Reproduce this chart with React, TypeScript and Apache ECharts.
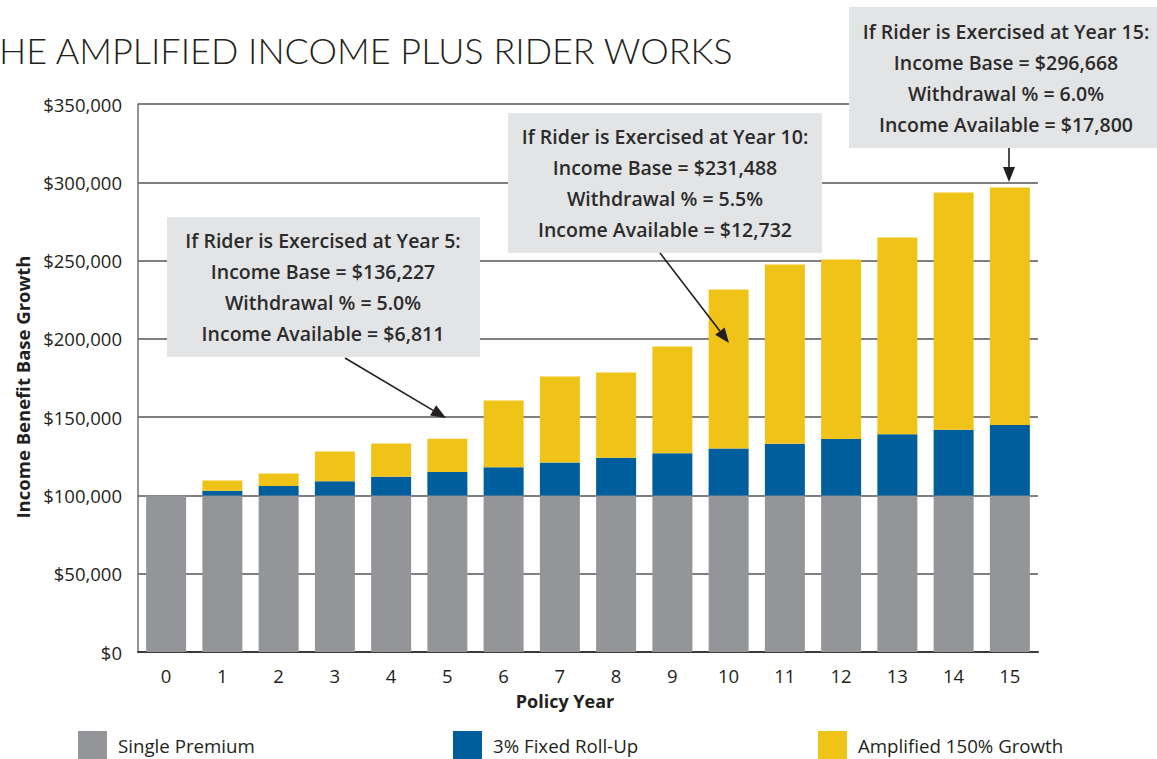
import React, { useEffect, useRef } from "react";
import * as echarts from "echarts";

const years = ["0", "1", "2", "3", "4", "5", "6", "7", "8", "9", "10", "11", "12", "13", "14", "15"];
const singlePremium = [100000, 100000, 100000, 100000, 100000, 100000, 100000, 100000, 100000, 100000, 100000, 100000, 100000, 100000, 100000, 100000];
const fixedRollUp = [0, 3000, 6000, 9000, 12000, 15000, 18000, 21000, 24000, 27000, 30000, 33000, 36000, 39000, 42000, 45000];
const amplifiedGrowth = [0, 6500, 8000, 19000, 21200, 21227, 42700, 55000, 54500, 68100, 101488, 114500, 114700, 125800, 151500, 151668];
const seriesNames = ["Single Premium", "3% Fixed Roll-Up", "Amplified 150% Growth"];
const colors = ["#939598", "#005e9c", "#f0c319"];
const titleText = "HE AMPLIFIED INCOME PLUS RIDER WORKS";
const xAxisName = "Policy Year";
const yAxisName = "Income Benefit Base Growth";
const callout5 = ["If Rider is Exercised at Year 5:", "Income Base = $136,227", "Withdrawal % = 5.0%", "Income Available = $6,811"];
const callout10 = ["If Rider is Exercised at Year 10:", "Income Base = $231,488", "Withdrawal % = 5.5%", "Income Available = $12,732"];
const callout15 = ["If Rider is Exercised at Year 15:", "Income Base = $296,668", "Withdrawal % = 6.0%", "Income Available = $17,800"];

const FONT = "'Open Sans', 'Noto Sans', sans-serif";

function box(x: number, y: number, w: number, h: number, cx: number, lines: string[]) {
  return [
    { type: "rect", shape: { x, y, width: w, height: h }, style: { fill: "#e3e4e6" }, z: 10 },
    {
      type: "text",
      x: cx,
      y: y + h / 2,
      z: 11,
      style: {
        text: lines.join("\n"),
        fontFamily: FONT,
        fontSize: 19.5,
        fontWeight: 600,
        lineHeight: 31,
        fill: "#2b2b2b",
        align: "center",
        verticalAlign: "middle",
      },
    },
  ];
}

function arrow(x1: number, y1: number, x2: number, y2: number) {
  const dx = x2 - x1;
  const dy = y2 - y1;
  const len = Math.sqrt(dx * dx + dy * dy);
  const ux = dx / len;
  const uy = dy / len;
  const hl = 15;
  const hw = 6;
  const bx = x2 - ux * hl;
  const by = y2 - uy * hl;
  return [
    { type: "line", shape: { x1, y1, x2: bx, y2: by }, style: { stroke: "#231f20", lineWidth: 1.6 }, z: 12 },
    {
      type: "polygon",
      shape: { points: [[x2, y2], [bx - uy * hw, by + ux * hw], [bx + uy * hw, by - ux * hw]] },
      style: { fill: "#231f20" },
      z: 12,
    },
  ];
}

export default function App() {
  const ref = useRef<HTMLDivElement>(null);
  useEffect(() => {
    if (!ref.current) return;
    const chart = echarts.init(ref.current, null, { renderer: "svg" });
    const data = [singlePremium, fixedRollUp, amplifiedGrowth];
    const legendX = [78, 453, 818];
    chart.setOption({
      animation: false,
      backgroundColor: "#ffffff",
      grid: { left: 138, right: 119, top: 104, bottom: 107, containLabel: false },
      legend: seriesNames.map((n, i) => ({
        data: [n],
        left: legendX[i],
        top: 731,
        itemWidth: 29,
        itemHeight: 28,
        icon: "rect",
        padding: 0,
        textStyle: { fontFamily: FONT, fontSize: 18.7, color: "#231f20", padding: [0, 0, 0, 6] },
        selectedMode: false,
      })),
      xAxis: {
        type: "category",
        data: years,
        axisLine: { show: true, lineStyle: { color: "#3a3a3a", width: 2 } },
        axisTick: { show: false },
        axisLabel: { fontFamily: FONT, fontSize: 18.5, color: "#231f20", margin: 14 },
      },
      yAxis: {
        type: "value",
        min: 0,
        max: 350000,
        interval: 50000,
        axisLine: { show: true, lineStyle: { color: "#707070", width: 1.5 } },
        axisTick: { show: false },
        splitLine: { show: true, lineStyle: { color: "#555555", width: 1.5 } },
        axisLabel: {
          fontFamily: FONT,
          fontSize: 18.5,
          color: "#231f20",
          margin: 16,
          formatter: (v: number) => "$" + v.toLocaleString("en-US"),
        },
      },
      series: seriesNames.map((n, i) => ({
        name: n,
        type: "bar",
        stack: "total",
        barWidth: 40,
        itemStyle: { color: colors[i] },
        data: data[i],
        z: 3,
      })),
      graphic: [
        {
          type: "text",
          x: -1,
          y: 50,
          style: {
            text: titleText,
            fontFamily: "Lato, 'Open Sans', sans-serif",
            fontSize: 36,
            fontWeight: 300,
            fill: "#231f20",
            verticalAlign: "middle",
          },
        },
        {
          type: "text",
          x: 565,
          y: 701,
          style: { text: xAxisName, fontFamily: FONT, fontSize: 18, fontWeight: 700, fill: "#231f20", align: "center", verticalAlign: "middle" },
        },
        {
          type: "text",
          x: 22,
          y: 387,
          rotation: Math.PI / 2,
          style: { text: yAxisName, fontFamily: FONT, fontSize: 18.5, fontWeight: 700, fill: "#231f20", align: "center", verticalAlign: "middle" },
        },
        ...box(167, 217, 313, 140, 323, callout5),
        ...box(508, 113, 314, 140, 665, callout10),
        ...box(849, 7, 320, 141, 1006, callout15),
        ...arrow(345, 358, 446, 418),
        ...arrow(660, 253, 729, 343),
        ...arrow(1009, 148, 1009, 182),
      ],
    });
    return () => chart.dispose();
  }, []);
  return <div ref={ref} style={{ position: "fixed", left: 0, top: 0, width: 1157, height: 759 }} />;
}
